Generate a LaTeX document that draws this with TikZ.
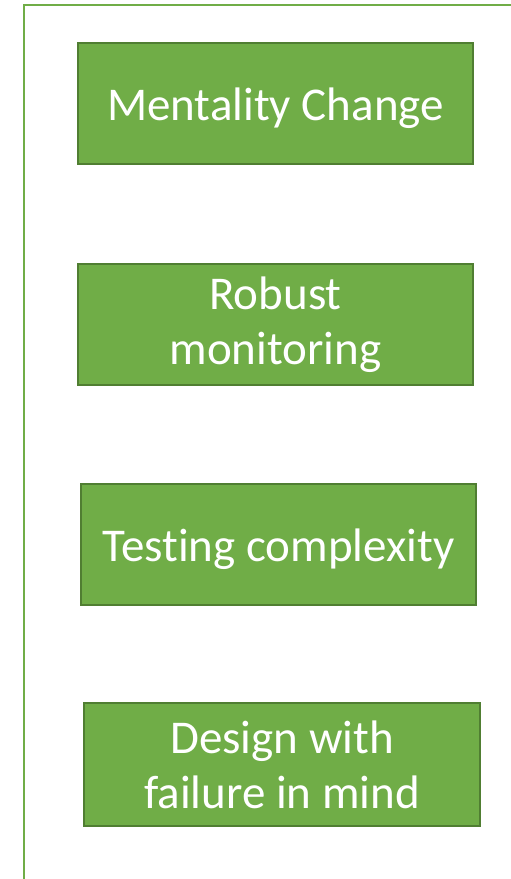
\documentclass[tikz,border=0pt]{standalone}
\usepackage{fontspec}
\setmainfont{Carlito}[Ligatures=NoCommon]
\definecolor{boxgreen}{HTML}{70AD47}
\definecolor{boxedge}{HTML}{507E32}

\newcommand*{\boxw}{395pt}
\newcommand*{\boxh}{121pt}

\begin{document}
\begin{tikzpicture}
[
	x=1pt,y=-1pt,
	stepbox/.style={rectangle,draw=boxedge,line width=1.5pt,fill=boxgreen,text=white,
		minimum width=\boxw,minimum height=\boxh,inner sep=0pt,align=center,
		font=\fontsize{47}{55}\selectfont,
		execute at begin node={\rule{0pt}{42pt}}}
]

	\useasboundingbox (0,0) rectangle (511,879);

	% frame
	\draw[boxgreen,line width=2.2pt] (24,879) -- (24,5) -- (511,5);

	% boxes
	\node[stepbox] (mentality) at (275.5,103.5) {Mentality Change};
	\node[stepbox] (monitoring) at (275.5,324.5) {Robust\\monitoring};
	\node[stepbox] (testing) at (278.5,544.5) {Testing complexity};
	\node[stepbox,minimum width=396pt,minimum height=123pt] (design) at (282,764.5) {Design with\\failure in mind};

\end{tikzpicture}
\end{document}
